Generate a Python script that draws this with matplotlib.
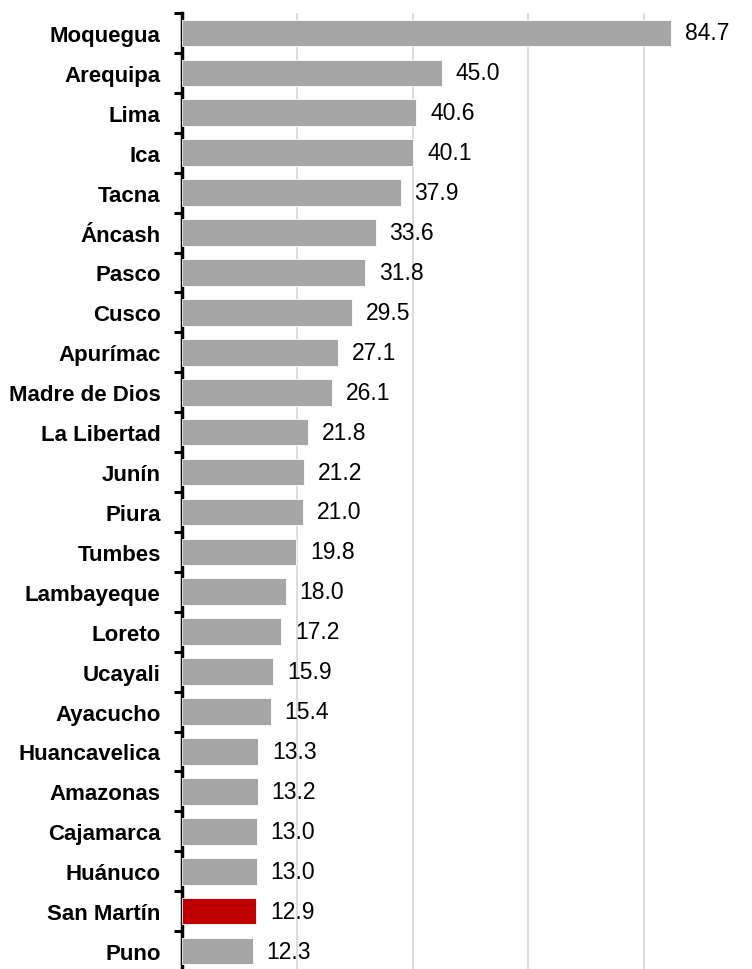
import matplotlib
matplotlib.use("Agg")
import matplotlib.pyplot as plt
from matplotlib import font_manager

regions = ["Moquegua", "Arequipa", "Lima", "Ica", "Tacna", "Áncash", "Pasco", "Cusco",
           "Apurímac", "Madre de Dios", "La Libertad", "Junín", "Piura", "Tumbes",
           "Lambayeque", "Loreto", "Ucayali", "Ayacucho", "Huancavelica", "Amazonas",
           "Cajamarca", "Huánuco", "San Martín", "Puno"]
values = [84.7, 45.0, 40.6, 40.1, 37.9, 33.6, 31.8, 29.5, 27.1, 26.1, 21.8, 21.2, 21.0,
          19.8, 18.0, 17.2, 15.9, 15.4, 13.3, 13.2, 13.0, 13.0, 12.9, 12.3]
highlight = "San Martín"

names = {f.name for f in font_manager.fontManager.ttflist}
fam = ["Liberation Sans Narrow", "Liberation Sans", "DejaVu Sans"] if "Liberation Sans Narrow" in names else ["Liberation Sans", "DejaVu Sans"]
plt.rcParams["font.family"] = fam

fig = plt.figure(figsize=(7.52, 9.70), dpi=100)
ax = fig.add_axes([181.5/752, -2/970, 578/752, 958/970])

y = list(range(len(regions)))
colors = ["#c00000" if r == highlight else "#a6a6a6" for r in regions]
ax.barh(y, values, height=0.67, color=colors, edgecolor="white", linewidth=0.6, zorder=3)
for yi, v in zip(y, values):
    ax.text(v + 2.4, yi, f"{v:.1f}", va="center", ha="left", fontsize=16.5, color="black")

ax.set_ylim(len(regions) - 0.5, -0.5)
ax.set_xlim(0, 100)
ax.set_xticks([20, 40, 60, 80, 100])
ax.set_xticklabels([])
ax.tick_params(axis="x", length=0)
ax.grid(axis="x", color="#d9d9d9", linewidth=1.3, zorder=0)

ax.set_yticks([i - 0.5 for i in range(len(regions) + 1)])
ax.set_yticklabels([])
ax.set_yticks(y, minor=True)
ax.set_yticklabels(regions, minor=True, fontsize=16, fontweight="bold")
ax.tick_params(axis="y", which="major", length=6, width=2.2, direction="out", color="black")
ax.tick_params(axis="y", which="minor", length=0, pad=15)

for s in ["top", "right", "bottom"]:
    ax.spines[s].set_visible(False)
ax.spines["left"].set_linewidth(2.5)
ax.spines["left"].set_color("black")

fig.savefig("out.png", dpi=100)
